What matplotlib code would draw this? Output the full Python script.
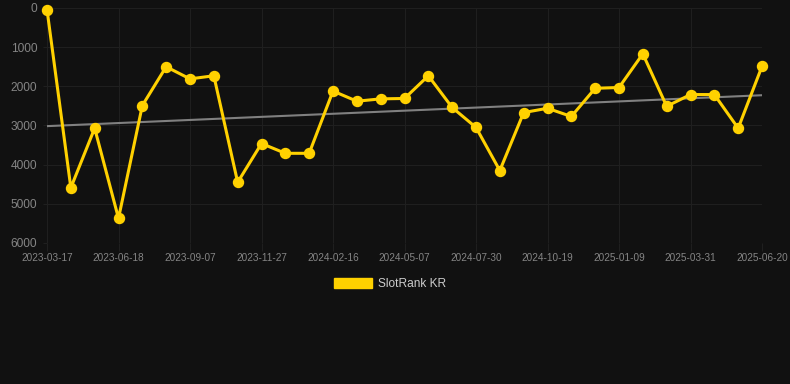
import numpy as np
import matplotlib
matplotlib.use("Agg")
import matplotlib.pyplot as plt

plt.rcParams['font.family'] = ['Liberation Sans', 'DejaVu Sans']

# data
ranks = [40, 4590, 3070, 5370, 2490, 1500, 1810, 1730, 4450, 3460, 3710, 3710,
         2120, 2380, 2320, 2310, 1730, 2540, 3050, 4150, 2670, 2560, 2770,
         2050, 2030, 1170, 2510, 2210, 2210, 3070, 1490]
tick_labels = ["2023-03-17", "2023-06-18", "2023-09-07", "2023-11-27", "2024-02-16",
               "2024-05-07", "2024-07-30", "2024-10-19", "2025-01-09", "2025-03-31",
               "2025-06-20"]
series_name = "SlotRank KR"

bg = "#111111"
grid_c = "#1f1f1f"
tick_c = "#858585"
gold = "#FFD100"

x = np.arange(len(ranks))
slope, intercept = np.polyfit(x, ranks, 1)

fig = plt.figure(figsize=(7.9, 3.84), dpi=100, facecolor=bg)
ax = fig.add_axes([47/790, 1-243/384, (762-47)/790, (243-8)/384], facecolor=bg)

ax.plot(x, slope*x + intercept, color="#808080", lw=1.5, zorder=2)
ax.plot(x, ranks, color=gold, lw=2.2, marker='o', ms=7.2, mfc=gold, mec=gold,
        zorder=3, clip_on=False, label=series_name)

ax.set_xlim(0, len(ranks)-1)
ax.set_ylim(6000, 0)
ax.set_yticks(range(0, 6001, 1000))
ax.set_xticks(x[::3])
ax.set_xticklabels(tick_labels)

ax.grid(True, color=grid_c, lw=0.8)
for s in ax.spines.values():
    s.set_visible(False)
ax.tick_params(axis='x', colors=grid_c, labelcolor=tick_c, labelsize=7.2, length=5.5, pad=2)
ax.tick_params(axis='y', colors=grid_c, labelcolor=tick_c, labelsize=8.6, length=3, pad=4)

leg = fig.legend(handles=[plt.Rectangle((0, 0), 1, 1, color=gold)], labels=[series_name],
                 loc='center', bbox_to_anchor=(390/790, 1-284/384), frameon=False,
                 handlelength=3.2, handleheight=1.0, handletextpad=0.5,
                 prop={'size': 8.6})
for t in leg.get_texts():
    t.set_color("#cccccc")

fig.savefig("out.png", dpi=100, facecolor=bg)
